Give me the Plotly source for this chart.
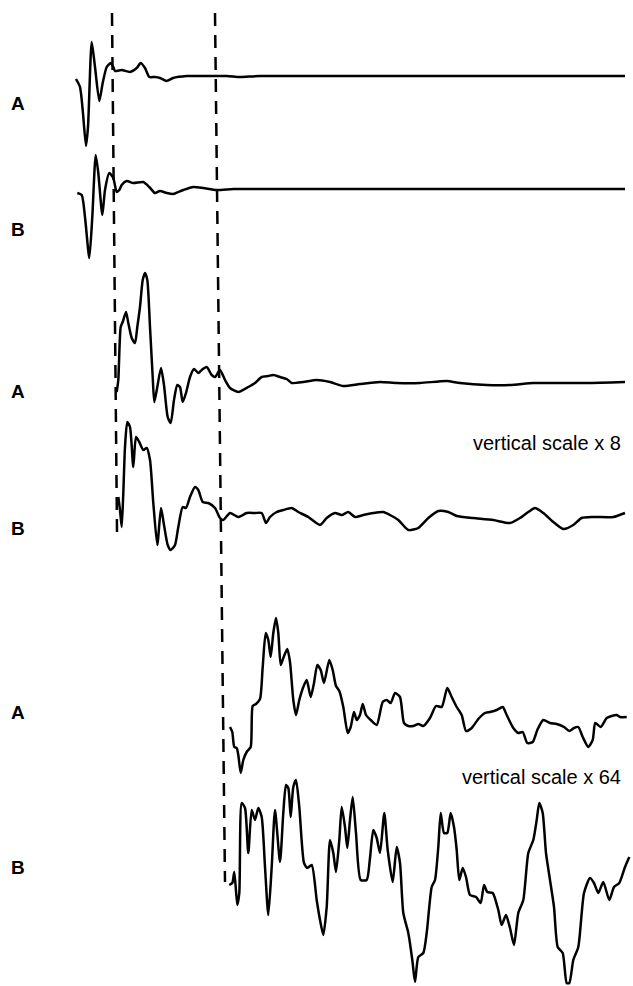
import plotly.graph_objects as go

# ---- data (time in arbitrary units, amplitude relative to each trace's baseline) ----
t1 = [76, 80, 82.7, 86, 88, 91.7, 95, 99.3, 102.7, 106.7, 110.7, 113.3, 115, 121.7, 130, 136.7, 140.7,
      145, 149.3, 155, 160, 166.7, 173, 186.7, 200, 226.7, 240, 260, 625]
v1 = [-3, -11, -34, -70, -51, 34, 9, -25, -7, 9, 13, 9, 5, 6, 4, 8, 13,
      8, -1, -1, -2, -5, -2, 0, 0, 0, -1, 0, 0]

t2 = [77.3, 81.7, 85, 89.3, 92.3, 95.7, 98.3, 102.3, 105, 109.3, 113.3, 116.7, 119.3, 121.7, 126.7, 133.3,
      143.3, 149.3, 155, 160, 166.7, 173.3, 183.3, 193.3, 203.3, 216.7, 233.3, 260, 625]
v2 = [-4, -6, -28, -69, -28, 34, 16, -26, -1, 16, 11, -3, -1, 4, 8, 6,
      7, 2, -4, -2, -4, -5, -1, 2, 1, -1, 0, 0, 0]

t3 = [116.7, 118.3, 120.7, 122.7, 126, 128.3, 131.7, 135, 137.3, 140,
      142.7, 145, 147.3, 150, 152.7, 154.3, 157.3, 161, 164, 167.7,
      170.7, 174, 177.3, 180, 182.7, 186, 190, 194, 198.3, 201.7,
      206.7, 211.7, 215, 220, 225, 230, 238.3, 248.3, 255, 261.7,
      268.3, 273.3, 280, 286.7, 291.7, 303.3, 316.7, 330, 343.3, 360,
      380, 396.7, 420, 446.7, 460, 486.7, 510, 533.3, 553.3, 586.7, 625]
v3 = [-9, 3, 56, 61, 71, 60, 45, 40, 56, 76,
      103, 110, 103, 56, 6, -19, -4, 15, -2, -34,
      -40, -17, -2, -4, -19, -10, 6, 14, 10, 13,
      16, 8, 6, 13, 3, -5, -9, -4, 0, 6,
      7, 8, 6, 4, 0, 1, 3, 1, -3, -1,
      1, 0, 0, 2, 0, -2, -2, 0, 0, 0, 1]

t4 = [118.3, 120, 121.7, 123.3, 125, 127.3, 130, 133.3, 136, 139.3,
      143.3, 146.7, 150, 153.3, 157.3, 161, 164, 167.7, 170.7, 175,
      178.3, 182.7, 186, 190, 195, 198.3, 202.7, 208.3, 215, 220,
      223.3, 230, 238.3, 246.7, 255, 261.7, 266, 270, 276.7, 283.3,
      291.7, 298.3, 308.3, 320, 326.7, 335, 341.7, 348.3, 355, 363.3,
      373.3, 383.3, 390, 398.3, 408.3, 418.3, 428.3, 438.3, 448.3, 456.7,
      473.3, 493.3, 510, 520, 528.3, 535, 543.3, 553.3, 563.3, 573.3,
      581.7, 593.3, 613.3, 625]
v4 = [16, 3, -14, 20, 66, 91, 86, 46, 76, 71,
      63, 65, 53, 10, -32, 5, -12, -32, -37, -32,
      -14, 6, 5, 16, 26, 23, 11, 10, 5, -5,
      -7, 0, -4, 0, 0, 0, -10, -4, 1, 3,
      5, 1, -4, -12, -5, 0, -2, 1, -4, -2,
      0, 1, -2, -7, -17, -15, -5, 2, 1, -3,
      -5, -7, -10, -5, 1, 5, 0, -9, -16, -12,
      -5, -4, -4, 0]

t5 = [230, 232.3, 234.3, 236.7, 238.3, 240.7, 243.3, 246.7, 250.7, 252.7,
      256, 260, 262.7, 265.7, 268.3, 270.7, 273.3, 276, 278.3, 280.7,
      283.3, 287.3, 290, 293.3, 296, 299.3, 303.3, 306.7, 310.7, 314,
      317.3, 320.7, 324, 329.3, 332.7, 336, 339.3, 343.3, 347.7, 350.7,
      354, 356.7, 360, 362.7, 366, 370.7, 376.7, 382.7, 386.7, 390.7,
      395, 400, 404, 408.3, 413.3, 418.3, 423.3, 430, 436, 441.7,
      447.3, 451.7, 456.7, 461.7, 466, 471.7, 478.3, 485, 490, 496.7,
      502.7, 506.7, 513.3, 518.3, 522.7, 527.3, 532.7, 537.3, 543.3, 550,
      556.7, 564, 569.3, 574, 578.3, 582.7, 588.3, 592.7, 595.3, 600.7,
      606.7, 611.7, 616.7, 620, 626.7]
v5 = [-1, -6, -21, -22, -29, -47, -34, -26, -21, 20,
      22, 27, 59, 93, 86, 69, 93, 108, 93, 61,
      68, 77, 64, 26, 11, 26, 39, 46, 29, 43,
      61, 56, 43, 66, 56, 40, 35, 19, -7, -1,
      14, 6, 11, 22, 11, 6, 1, 24, 26, 23,
      33, 29, 3, 0, 0, 2, 0, 8, 20, 19,
      38, 29, 19, 11, -5, -2, 7, 13, 14, 16,
      19, 11, -2, -7, -6, -17, -16, -4, 6, 3,
      2, -1, -5, -2, -1, -11, -21, -14, 3, -1,
      8, 10, 11, 9, 9]

t6 = [229.3, 232.3, 234.3, 237.3, 239.3, 241.7, 245, 248.3, 251.7, 255,
      258.3, 261.7, 265, 268.3, 271.7, 275, 280, 283.3, 286, 288.3,
      290.7, 293.3, 296, 299.3, 304, 307.3, 311.7, 316.7, 320, 323.3,
      326.7, 330, 333.3, 336, 339.3, 341.7, 345, 347.3, 350, 352.7,
      356, 360.7, 366.7, 370, 373.3, 376.7, 380, 384.3, 387.7, 392.7,
      396.7, 400, 403.3, 408.3, 412.3, 415, 418.3, 423.3, 426.7, 431.7,
      435, 438.3, 440.7, 444, 447.3, 450.7, 454, 456.7, 459.3, 462.7,
      466, 470, 476, 480.7, 484, 487.3, 492.7, 498.3, 501.7, 506,
      510, 514, 518.3, 523.3, 528.3, 533.3, 536.7, 539.3, 542.7, 546,
      550, 554, 557.7, 562.7, 566.7, 569.3, 573.3, 578.3, 584, 590,
      594, 598.3, 603.3, 609.3, 614, 619.3, 625, 629.3]
v6 = [-5, -3, 8, -25, -13, 77, 72, 27, 70, 60,
      72, 63, 13, -35, 13, 70, 18, 67, 95, 92,
      63, 93, 100, 73, 17, 12, 15, -20, -40, -55,
      -27, 40, 27, 8, 40, 73, 53, 32, 60, 83,
      47, 0, 0, 22, 50, 42, 27, 67, 30, -2,
      33, 17, -33, -53, -80, -102, -77, -73, -53, -7,
      0, 33, 67, 47, 47, 67, 53, 30, 0, 12,
      3, -15, -17, -23, -5, -12, -13, -30, -45, -35,
      -48, -65, -33, -20, 27, 40, 60, 77, 67, 27,
      0, -27, -67, -73, -103, -103, -80, -67, -13, 2,
      -3, -13, -2, -20, -7, -3, 13, 23]

labels = ["A", "B", "A", "B", "A", "B"]
scale_notes = ["vertical scale x 8", "vertical scale x 64"]

# marker times for the two dashed reference lines (top / bottom of each line)
marker_t_top = [112, 215]
marker_t_bottom = [117, 225]

series = [(t1, v1), (t2, v2), (t3, v3), (t4, v4), (t5, v5), (t6, v6)]
for t, v in series:
    assert len(t) == len(v), (len(t), len(v))

# ---- layout geometry ----
W, H = 633, 986
baselines = [76, 189, 383, 513, 726, 880]   # vertical placement of each trace (px)
label_y = [103, 229, 391, 528, 712, 867]
note_y = [443, 777]
marker_top = 13
marker_bottom = [532, 882]

fig = go.Figure()
for i, (t, v) in enumerate(series):
    ax = "y" if i == 0 else f"y{i + 1}"
    fig.add_trace(go.Scatter(x=t, y=v, mode="lines", yaxis=ax,
                             line=dict(color="black", width=2.5, shape="spline", smoothing=0.6),
                             hoverinfo="skip", showlegend=False))

# dashed reference lines on a pixel-scaled helper axis
for k in range(2):
    fig.add_trace(go.Scatter(x=[marker_t_top[k], marker_t_bottom[k]],
                             y=[marker_top, marker_bottom[k]], mode="lines", yaxis="y7",
                             line=dict(color="black", width=2.5, dash="13px,9px"),
                             hoverinfo="skip", showlegend=False))

layout = dict(
    width=W, height=H,
    margin=dict(l=0, r=0, t=0, b=0),
    paper_bgcolor="white", plot_bgcolor="white",
    xaxis=dict(range=[0, W], visible=False, fixedrange=True),
    showlegend=False,
)
for i, b in enumerate(baselines):
    key = "yaxis" if i == 0 else f"yaxis{i + 1}"
    d = dict(range=[b - H, b], visible=False, fixedrange=True)
    if i > 0:
        d["overlaying"] = "y"
    layout[key] = d
layout["yaxis7"] = dict(range=[H, 0], visible=False, overlaying="y", fixedrange=True)
fig.update_layout(**layout)

annotations = []
for lab, ly in zip(labels, label_y):
    annotations.append(dict(x=18, y=ly, xref="x", yref="y7", text=f"<b>{lab}</b>", showarrow=False,
                            font=dict(family="Liberation Sans, Arial, sans-serif", size=19, color="black"),
                            xanchor="center", yanchor="middle"))
for note, ny in zip(scale_notes, note_y):
    annotations.append(dict(x=623, y=ny, xref="x", yref="y7", text=note, showarrow=False,
                            font=dict(family="Liberation Sans, Arial, sans-serif", size=20, color="black"),
                            xanchor="right", yanchor="middle"))
fig.update_layout(annotations=annotations)

fig.write_html("out.html", config={"displayModeBar": False, "staticPlot": True},
               post_script="document.body.style.margin='0';")
